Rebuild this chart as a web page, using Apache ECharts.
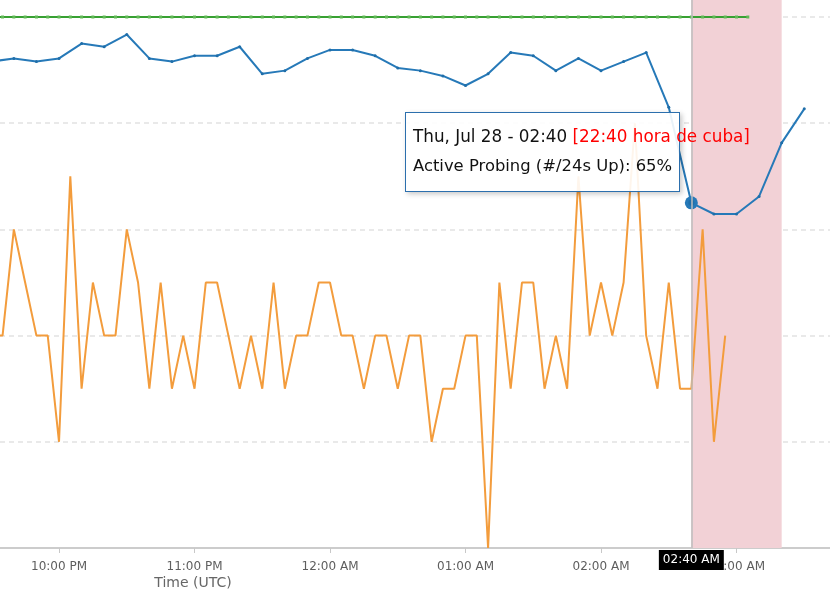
<!DOCTYPE html>
<html>
<head>
<meta charset="utf-8">
<script src="https://cdn.jsdelivr.net/npm/echarts@6/dist/echarts.min.js"></script>
<style>
html,body{margin:0;padding:0;background:#fff;}
#chart{width:830px;height:600px;}
</style>
</head>
<body>
<div id="chart"></div>
<script>
// ---- data ----
const viewStart = '2022-07-27T21:33:52Z';
const viewEnd = '2022-07-28T03:41:24Z';

// Active Probing (#/24s Up), 10-minute samples from 21:30 UTC
const probingStart = '2022-07-27T21:30:00Z';
const probingStepMin = 10;
const activeProbing = [
  91.6, 92.2, 91.6, 92.2, 95.0, 94.4, 96.7, 92.2, 91.6, 92.7,
  92.7, 94.4, 89.3, 89.9, 92.2, 93.8, 93.8, 92.7, 90.4, 89.9,
  88.9, 87.1, 89.3, 93.3, 92.7, 89.9, 92.2, 89.9, 91.6, 93.3,
  83.0, 65, 62.9, 62.9, 66.2, 76.3, 82.7
];

// Telescope, 5-minute samples from 21:30 UTC
const telescopeStart = '2022-07-27T21:30:00Z';
const telescopeStepMin = 5;
const telescope = [
  40, 40, 60, 50, 40, 40,
  20, 70, 30, 50, 40, 40, 60, 50, 30, 50, 30, 40,
  30, 50, 50, 40, 30, 40, 30, 50, 30, 40, 40, 50,
  50, 40, 40, 30, 40, 40, 30, 40, 40, 20, 30, 30,
  40, 40, 0, 50, 30, 50, 50, 30, 40, 30, 70, 40,
  50, 40, 50, 80, 40, 30, 50, 30, 30, 60, 20, 40
];

// BGP, 5-minute samples from 21:30 UTC
const bgpStart = '2022-07-27T21:30:00Z';
const bgpStepMin = 5;
const bgp = [
  100, 100, 100, 100, 100, 100, 100, 100, 100, 100,
  100, 100, 100, 100, 100, 100, 100, 100, 100, 100,
  100, 100, 100, 100, 100, 100, 100, 100, 100, 100,
  100, 100, 100, 100, 100, 100, 100, 100, 100, 100,
  100, 100, 100, 100, 100, 100, 100, 100, 100, 100,
  100, 100, 100, 100, 100, 100, 100, 100, 100, 100,
  100, 100, 100, 100, 100, 100, 100, 100
];

const outageWindow = ['2022-07-28T02:40:00Z', '2022-07-28T03:20:00Z'];
const hoverTime = '2022-07-28T02:40:00Z';
const cubaOffsetHours = -4;
const cubaLabel = 'hora de cuba';
const axisTitle = 'Time (UTC)';

// ---- helpers ----
function toSeries(start, stepMin, values) {
  const t0 = Date.parse(start);
  return values.map((v, i) => [t0 + i * stepMin * 60000, v]);
}
function pad(n) { return (n < 10 ? '0' : '') + n; }
function fmt12(v) {
  const d = new Date(v);
  const h = d.getUTCHours();
  const m = d.getUTCMinutes();
  let h12 = h % 12; if (h12 === 0) h12 = 12;
  return pad(h12) + ':' + pad(m) + ' ' + (h >= 12 ? 'PM' : 'AM');
}
const DAYS = ['Sun','Mon','Tue','Wed','Thu','Fri','Sat'];
const MONTHS = ['Jan','Feb','Mar','Apr','May','Jun','Jul','Aug','Sep','Oct','Nov','Dec'];

const FONT = 'DejaVu Sans';
const BLUE = '#2679b8';
const probingData = toSeries(probingStart, probingStepMin, activeProbing);
const hoverIndex = probingData.findIndex(p => p[0] === Date.parse(hoverTime));

const chart = echarts.init(document.getElementById('chart'), null, {renderer: 'canvas'});
const option = {
  animation: false,
  useUTC: true,
  grid: {left: 0, right: 0, top: 0, bottom: 52, containLabel: false, outerBoundsMode: 'none'},
  xAxis: {
    type: 'time',
    min: Date.parse(viewStart),
    max: Date.parse(viewEnd),
    minInterval: 3600000,
    maxInterval: 3600000,
    axisLine: {lineStyle: {color: '#cccccc', width: 2}},
    axisTick: {show: true, length: 5, lineStyle: {color: '#c8c8c8', width: 1}},
    axisLabel: {
      color: '#5e5e5e', fontSize: 12, fontFamily: FONT, margin: 13,
      showMinLabel: false, showMaxLabel: false, hideOverlap: false,
      formatter: v => fmt12(v)
    },
    splitLine: {show: false},
    minorTick: {show: false},
    axisPointer: {
      type: 'line',
      snap: true,
      lineStyle: {color: '#bdbdbd', width: 1.5, type: 'solid'},
      label: {
        show: true, backgroundColor: '#000', color: '#fff',
        fontFamily: FONT, fontSize: 12, padding: [4, 4, 4, 4], margin: 2,
        borderRadius: 0,
        formatter: p => fmt12(p.value)
      }
    }
  },
  yAxis: {
    type: 'value',
    min: 0,
    max: 100 * 548 / 531,
    interval: 20,
    axisLabel: {show: false},
    axisLine: {show: false},
    axisTick: {show: false},
    splitLine: {
      show: true, showMaxLine: false, showMinLine: false,
      lineStyle: {color: '#e2e2e2', type: [5, 4], width: 1.5}
    }
  },
  tooltip: {
    trigger: 'axis',
    triggerOn: 'none',
    alwaysShowContent: true,
    transitionDuration: 0,
    position: [405, 112],
    backgroundColor: 'rgba(255,255,255,0.9)',
    borderColor: '#2c6fad',
    borderWidth: 1,
    borderRadius: 0,
    padding: [8, 7, 10, 7],
    textStyle: {color: '#000', fontSize: 16, fontFamily: FONT},
    extraCssText: 'box-shadow: 2px 2px 5px rgba(0,0,0,0.22); border-radius:0;',
    axisPointer: {type: 'line', lineStyle: {color: '#bdbdbd', width: 1.5, type: 'solid'}},
    formatter: function (params) {
      const p = params.find(q => q.seriesName === 'Active Probing (#/24s Up)');
      if (!p) return '';
      const d = new Date(p.value[0]);
      const local = new Date(p.value[0] + cubaOffsetHours * 3600000);
      const head = DAYS[d.getUTCDay()] + ', ' + MONTHS[d.getUTCMonth()] + ' ' + d.getUTCDate() +
        ' - ' + pad(d.getUTCHours()) + ':' + pad(d.getUTCMinutes());
      const red = '[' + pad(local.getUTCHours()) + ':' + pad(local.getUTCMinutes()) + ' ' + cubaLabel + ']';
      return '<div style="font-family:' + FONT + ';font-size:16.4px;color:#111;line-height:30px;">' +
        '<div style="width:0;white-space:nowrap;overflow:visible;height:30px;font-size:16.8px;">' + head +
        ' <span style="color:#ff0000">' + red + '</span></div>' +
        '<div style="white-space:nowrap;height:30px;">' + p.seriesName + ': ' + Math.round(p.value[1]) + '%</div>' +
        '</div>';
    }
  },
  graphic: [{
    type: 'text', x: 193, y: 583,
    style: {text: axisTitle, fill: '#666', fontSize: 14, fontFamily: FONT, textAlign: 'center', textVerticalAlign: 'middle'}
  }],
  series: [
    {
      name: 'outage',
      type: 'line',
      z: 1,
      data: [],
      markArea: {
        silent: true,
        itemStyle: {color: '#f2d1d6'},
        data: [[{xAxis: Date.parse(outageWindow[0])}, {xAxis: Date.parse(outageWindow[1])}]]
      }
    },
    {
      name: 'Telescope',
      type: 'line',
      z: 3,
      data: toSeries(telescopeStart, telescopeStepMin, telescope),
      symbol: 'none',
      showSymbol: false,
      lineStyle: {color: '#f39c3c', width: 2},
      itemStyle: {color: '#f39c3c'},
      emphasis: {disabled: true},
      clip: true
    },
    {
      name: 'BGP (# Visible /24s)',
      type: 'line',
      z: 4,
      data: toSeries(bgpStart, bgpStepMin, bgp),
      symbol: 'rect',
      symbolSize: [3, 3],
      showSymbol: true,
      lineStyle: {color: '#37a032', width: 2},
      itemStyle: {color: '#62b957'},
      emphasis: {disabled: true, scale: false},
      clip: true
    },
    {
      name: 'Active Probing (#/24s Up)',
      type: 'line',
      z: 5,
      data: probingData,
      symbol: 'circle',
      symbolSize: 3,
      showSymbol: true,
      lineStyle: {color: BLUE, width: 2},
      itemStyle: {color: '#1f6ea9'},
      emphasis: {disabled: true},
      markPoint: {
        silent: true,
        symbol: 'circle',
        symbolSize: 13,
        itemStyle: {color: BLUE, borderWidth: 0},
        label: {show: false},
        data: [{coord: probingData[hoverIndex]}]
      },
      clip: true
    }
  ]
};
chart.setOption(option);
chart.dispatchAction({type: 'showTip', seriesIndex: 3, dataIndex: hoverIndex});
</script>
</body>
</html>
